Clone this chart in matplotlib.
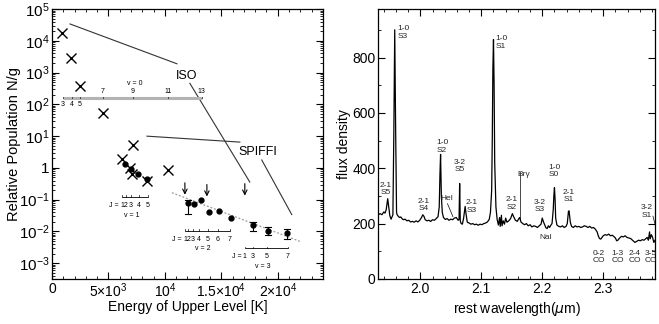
import numpy as np
import matplotlib
matplotlib.use("Agg")
import matplotlib.pyplot as plt
from matplotlib.ticker import FixedLocator, MultipleLocator, FuncFormatter, NullFormatter

plt.rcParams['font.family'] = ['Liberation Sans', 'DejaVu Sans']
plt.rcParams['mathtext.default'] = 'regular'

# ---- left panel: H2 level populations ----
iso_E = [885, 1680, 2480, 4510, 7170, 6190, 6900, 7080, 8400, 10270]
iso_N = [1.8e4, 2.9e3, 390, 52, 5.2, 1.9, 1.0, 0.65, 0.39, 0.87]

v1_E = [6460, 6990, 7610, 8400]
v1_N = [1.33, 0.93, 0.65, 0.46]

v2_E = [12040, 12570, 13190, 13890, 14780, 15840]
v2_N = [0.078, 0.075, 0.10, 0.042, 0.043, 0.026]
v2_lo = [0.035, None, None, None, None, None]
v2_hi = [0.10, None, None, None, None, None]

v3_E = [17790, 19120, 20800]
v3_N = [0.0165, 0.010, 0.0087]
v3_lo = [0.010, 0.0078, 0.0056]
v3_hi = [0.020, 0.0137, 0.0122]

lim_E = [11770, 13720, 17080]
lim_N = [0.34, 0.30, 0.32]

fit_E = [10620, 21950]
fit_N = [0.166, 0.0049]

iso_line1_E = [1590, 11060]
iso_line1_N = [3.4e4, 1.9e3]
iso_line2_E = [12210, 17520]
iso_line2_N = [460, 0.36]
spiffi_line1_E = [8410, 16640]
spiffi_line1_N = [10, 6.5]
spiffi_line2_E = [18580, 21240]
spiffi_line2_N = [1.78, 0.034]

# J-level scale bars (energy of each level)
v0_levels = [970, 1770, 2480, 4510, 7170, 10270, 13270]
v0_J = ['3', '4', '5', '7', '9', '11', '13']
v1_levels = [6190, 6550, 6990, 7700, 8500]
v1_J = ['1', '2', '3', '4', '5']
v2_levels = [11770, 12040, 12480, 13010, 13810, 14690, 15750]
v2_J = ['1', '2', '3', '4', '5', '6', '7']
v3_levels = [17080, 17790, 19030, 20880]
v3_J = ['1', '3', '5', '7']

# ---- right panel: spectrum ----
wave = [1.931, 1.934, 1.937, 1.940, 1.942, 1.944, 1.9465, 1.948, 1.950, 1.952,
        1.955, 1.9565, 1.958, 1.9595, 1.961, 1.962, 1.964, 1.966, 1.968, 1.970,
        1.972, 1.975, 1.978, 1.981, 1.984, 1.987, 1.990, 1.993, 1.996, 1.999,
        2.002, 2.004, 2.006, 2.008, 2.011, 2.014, 2.017, 2.020, 2.023, 2.026,
        2.029, 2.031, 2.0322, 2.0332, 2.0345, 2.036, 2.038, 2.041, 2.044, 2.047,
        2.050, 2.053, 2.056, 2.059, 2.062, 2.0635, 2.0645, 2.0655, 2.067, 2.069,
        2.071, 2.0735, 2.075, 2.077, 2.080, 2.083, 2.086, 2.089, 2.092, 2.095,
        2.098, 2.101, 2.104, 2.107, 2.110, 2.113, 2.115, 2.117, 2.118, 2.119,
        2.120, 2.121, 2.122, 2.124, 2.126, 2.128, 2.130, 2.131, 2.133, 2.134,
        2.136, 2.138, 2.140, 2.142, 2.145, 2.148, 2.151, 2.153, 2.156, 2.159,
        2.161, 2.163, 2.165, 2.168, 2.171, 2.174, 2.177, 2.180, 2.183, 2.186,
        2.189, 2.192, 2.195, 2.198, 2.200, 2.202, 2.204, 2.206, 2.208, 2.210,
        2.212, 2.214, 2.216, 2.218, 2.219, 2.220, 2.221, 2.222, 2.224, 2.227,
        2.230, 2.233, 2.236, 2.239, 2.241, 2.243, 2.244, 2.246, 2.248, 2.251,
        2.254, 2.257, 2.260, 2.263, 2.266, 2.269, 2.272, 2.275, 2.278, 2.281,
        2.284, 2.287, 2.290, 2.292, 2.294, 2.296, 2.298, 2.300, 2.303, 2.306,
        2.309, 2.312, 2.315, 2.318, 2.320, 2.322, 2.324, 2.327, 2.330, 2.333,
        2.336, 2.339, 2.342, 2.345, 2.348, 2.350, 2.352, 2.355, 2.358, 2.361,
        2.364, 2.367, 2.370, 2.372, 2.374, 2.376, 2.377, 2.379, 2.381, 2.383,
        2.385]
flux = [232, 236, 232, 242, 238, 250, 290, 262, 228, 216,
        232, 520, 900, 540, 240, 232, 226, 222, 224, 218,
        214, 216, 210, 212, 206, 208, 205, 210, 206, 212,
        222, 232, 226, 214, 210, 212, 208, 214, 212, 218,
        225, 260, 380, 450, 300, 240, 222, 215, 218, 212,
        216, 214, 220, 222, 212, 215, 345, 210, 200, 198,
        220, 262, 235, 205, 202, 198, 200, 196, 198, 194,
        198, 196, 200, 202, 206, 215, 240, 320, 500, 760,
        865, 700, 420, 260, 215, 195, 222, 190, 230, 192,
        210, 198, 220, 205, 210, 218, 236, 225, 212, 208,
        216, 222, 206, 200, 196, 200, 192, 196, 188, 192,
        190, 186, 192, 198, 220, 206, 195, 185, 182, 192,
        186, 194, 200, 250, 300, 330, 290, 220, 195, 190,
        188, 192, 186, 190, 200, 245, 246, 205, 190, 186,
        192, 188, 190, 186, 188, 192, 190, 186, 190, 184,
        186, 180, 170, 155, 146, 144, 150, 156, 160, 158,
        162, 156, 158, 152, 148, 138, 140, 148, 154, 152,
        156, 150, 148, 146, 140, 136, 132, 136, 140, 138,
        142, 140, 146, 150, 140, 170, 145, 160, 150, 132,
        140]

line_labels = ['1-0\nS3', '1-0\nS1', '1-0\nS2', '3-2\nS5', '2-1\nS5', '2-1\nS4',
               'HeI', '2-1\nS3', '2-1\nS2', 'Br\u03b3', '3-2\nS3', 'NaI',
               '1-0\nS0', '2-1\nS1', '3-2\nS1']
co_labels = ['0-2\nCO', '1-3\nCO', '2-4\nCO', '3-5\nCO']


def style_axis(ax):
    ax.tick_params(which='both', direction='in', top=True, right=True, labelsize=10, pad=2)
    ax.tick_params(which='major', length=5, width=0.8)
    ax.tick_params(which='minor', length=2.5, width=0.6)
    for s in ax.spines.values():
        s.set_linewidth(0.9)


fig = plt.figure(figsize=(6.59, 3.24), dpi=100)

# ---------------- left ----------------
ax1 = fig.add_axes([0.079, 0.139, 0.411, 0.833])
ax1.set_yscale('log')
ax1.set_xlim(0, 24000)
ax1.set_ylim(3.2e-4, 1e5)

ax1.plot(iso_line1_E, iso_line1_N, color='0.2', lw=0.8)
ax1.plot(iso_line2_E, iso_line2_N, color='0.2', lw=0.8)
ax1.plot(spiffi_line1_E, spiffi_line1_N, color='0.2', lw=0.8)
ax1.plot(spiffi_line2_E, spiffi_line2_N, color='0.2', lw=0.8)
ax1.text(11950, 800, 'ISO', fontsize=9, ha='center', va='center')
ax1.text(18200, 3.2, 'SPIFFI', fontsize=9, ha='center', va='center')

ax1.plot(fit_E, fit_N, color='0.6', lw=0.9, ls=(0, (1.5, 1.5)))

ax1.plot(iso_E, iso_N, 'x', color='k', ms=6.5, mew=1)
ax1.plot(v1_E, v1_N, 'o', color='k', ms=3.5)
ax1.plot(v2_E, v2_N, 'o', color='k', ms=3.5)
for e, lo, hi in zip(v2_E, v2_lo, v2_hi):
    if lo is not None:
        ax1.plot([e, e], [lo, hi], color='k', lw=0.8)
        ax1.plot([e - 250, e + 250], [lo, lo], color='k', lw=0.8)
        ax1.plot([e - 250, e + 250], [hi, hi], color='k', lw=0.8)
ax1.plot(v3_E, v3_N, 'o', color='k', ms=3.5)
for e, lo, hi in zip(v3_E, v3_lo, v3_hi):
    ax1.plot([e, e], [lo, hi], color='k', lw=0.8)
    ax1.plot([e - 250, e + 250], [lo, lo], color='k', lw=0.8)
    ax1.plot([e - 250, e + 250], [hi, hi], color='k', lw=0.8)
for e, n in zip(lim_E, lim_N):
    ax1.annotate('', xy=(e, n * 0.42), xytext=(e, n),
                 arrowprops=dict(arrowstyle='->', lw=0.8, color='k',
                                 mutation_scale=8, shrinkA=0, shrinkB=0))


def scale_bar(levels, y, color, lw, tick_up=1.12):
    ax1.plot([levels[0], levels[-1]], [y, y], color=color, lw=lw, solid_capstyle='butt')
    for e in levels:
        ax1.plot([e, e], [y, y * tick_up], color='k', lw=0.5)


# v = 0
scale_bar(v0_levels, 155, '0.7', 2.2)
for e, j in zip(v0_levels, v0_J):
    if int(j) < 6:
        ax1.text(e, 100, j, fontsize=5, ha='center', va='center')
    else:
        ax1.text(e, 250, j, fontsize=5, ha='center', va='center')
ax1.text(7350, 460, 'v = 0', fontsize=5, ha='center', va='center')

# v = 1
scale_bar(v1_levels, 0.124, 'k', 0.6)
ax1.text(v1_levels[0] - 300, 0.065, 'J =', fontsize=5, ha='right', va='center')
ax1.text(v1_levels[0] - 100, 0.065, '12', fontsize=5, ha='left', va='center')
for e, j in zip(v1_levels[2:], v1_J[2:]):
    ax1.text(e, 0.065, j, fontsize=5, ha='center', va='center')
ax1.text(7080, 0.0316, 'v = 1', fontsize=5, ha='center', va='center')

# v = 2
scale_bar(v2_levels, 0.0107, 'k', 0.6)
ax1.text(v2_levels[0] - 300, 0.0056, 'J =', fontsize=5, ha='right', va='center')
ax1.text(v2_levels[0] - 100, 0.0056, '12', fontsize=5, ha='left', va='center')
for e, j in zip(v2_levels[2:], v2_J[2:]):
    ax1.text(e, 0.0056, j, fontsize=5, ha='center', va='center')
ax1.text(13360, 0.003, 'v = 2', fontsize=5, ha='center', va='center')

# v = 3
scale_bar(v3_levels, 0.003, 'k', 0.6)
ax1.text(v3_levels[0] - 300, 0.00166, 'J =', fontsize=5, ha='right', va='center')
for e, j in zip(v3_levels, v3_J):
    ax1.text(e, 0.00166, j, fontsize=5, ha='center', va='center')
ax1.text(18670, 0.00081, 'v = 3', fontsize=5, ha='center', va='center')

ax1.xaxis.set_major_locator(FixedLocator([0, 5000, 10000, 15000, 20000]))
ax1.set_xticklabels(['0', r'5$\times$10$^3$', r'10$^4$', r'1.5$\times$10$^4$', r'2$\times$10$^4$'])
ax1.xaxis.set_minor_locator(MultipleLocator(1000))

# only the decades inside the view, so no hidden labels hang off the figure
decades = [10.0 ** n for n in range(-3, 6)]
minors = [m * 10.0 ** n for n in range(-4, 5) for m in range(2, 10)
          if 3.2e-4 <= m * 10.0 ** n <= 1e5]
ax1.yaxis.set_major_locator(FixedLocator(decades))
ax1.yaxis.set_minor_locator(FixedLocator(minors))
ax1.yaxis.set_minor_formatter(NullFormatter())


def log_fmt(v, pos):
    n = int(round(np.log10(v)))
    return '1' if n == 0 else r'10$^{%d}$' % n


ax1.yaxis.set_major_formatter(FuncFormatter(log_fmt))
style_axis(ax1)
ax1.tick_params(axis='y', labelsize=11)
ax1.set_xlabel('Energy of Upper Level [K]', fontsize=10, labelpad=0)
ax1.set_ylabel('Relative Population N/g', fontsize=10.5)
ax1.yaxis.set_label_coords(-0.115, 0.5)

# ---------------- right ----------------
ax2 = fig.add_axes([0.574, 0.139, 0.420, 0.833])
ax2.plot(wave, flux, color='k', lw=0.9)
ax2.set_xlim(1.931, 2.385)
ax2.set_ylim(0, 975)
ax2.xaxis.set_major_locator(FixedLocator([2.0, 2.1, 2.2, 2.3]))
ax2.xaxis.set_major_formatter(FuncFormatter(lambda v, p: '%.1f' % v))
ax2.xaxis.set_minor_locator(MultipleLocator(0.02))
ax2.yaxis.set_major_locator(FixedLocator([0, 200, 400, 600, 800]))
ax2.yaxis.set_minor_locator(MultipleLocator(100))
style_axis(ax2)
ax2.set_xlabel(r'rest wavelength($\mathit{\mu}$m)', fontsize=10, labelpad=3)
ax2.set_ylabel('flux density', fontsize=10, labelpad=1)

# line identification labels (x, y of label centre)
label_pos = [(1.9625, 890, 'left'), (2.123, 855, 'left'), (2.0355, 478, 'center'),
             (2.0640, 408, 'center'), (1.9425, 325, 'center'), (2.0060, 268, 'center'),
             (2.0440, 292, 'center'), (2.0840, 262, 'center'), (2.1500, 272, 'center'),
             (2.1690, 378, 'center'), (2.1950, 264, 'center'), (2.2050, 150, 'center'),
             (2.2195, 390, 'center'), (2.2440, 300, 'center'), (2.3720, 243, 'center')]
for (x, y, ha), txt in zip(label_pos, line_labels):
    ax2.text(x, y, txt, fontsize=6, ha=ha, va='center', linespacing=1.1, color='0.15')

co_x = [2.2925, 2.3235, 2.3515, 2.3775]
for x, txt in zip(co_x, co_labels):
    ax2.text(x, 80, txt, fontsize=6, ha='center', va='center', linespacing=1.1, color='0.15')

# leader lines
ax2.plot([2.1640, 2.1640], [212, 388], color='k', lw=0.5)
ax2.plot([2.0445, 2.0535], [272, 225], color='k', lw=0.5)
ax2.plot([2.3815, 2.3890], [227, 165], color='k', lw=0.5)

fig.savefig('out.png', dpi=100)
